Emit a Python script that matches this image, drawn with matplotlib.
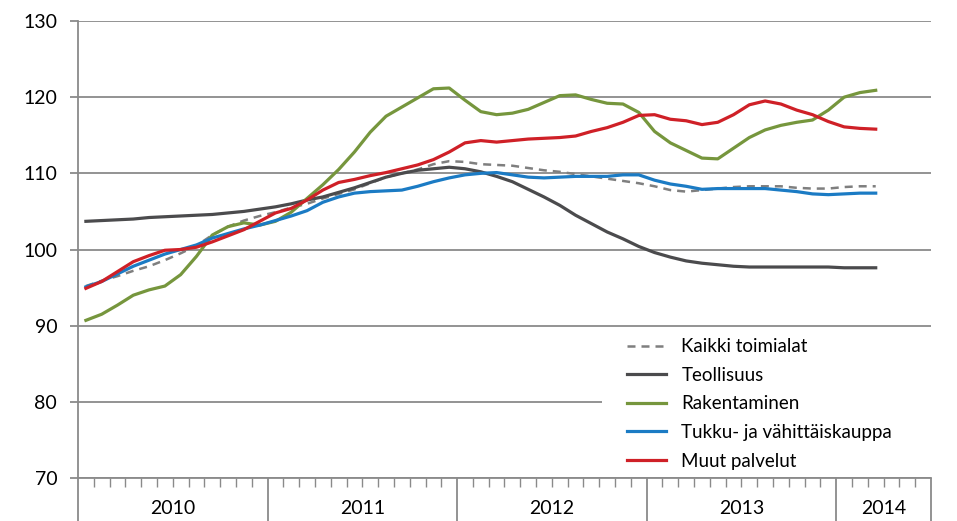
import matplotlib.pyplot as plt
from matplotlib.patches import Rectangle

# monthly index, Jan 2010 - Mar 2014
years = ["2010", "2011", "2012", "2013", "2014"]
months_per_year = [12, 12, 12, 12, 6]

kaikki = [95.2, 95.9, 96.5, 97.2, 97.8, 98.6, 99.5, 100.5, 101.9, 103.0, 103.8, 104.4,
          104.9, 105.5, 106.0, 106.7, 107.3, 107.9, 108.7, 109.5, 110.0, 110.5, 111.2, 111.6,
          111.5, 111.2, 111.1, 111.0, 110.7, 110.4, 110.2, 109.9, 109.6, 109.3, 109.0, 108.7,
          108.3, 107.8, 107.6, 107.8, 108.0, 108.2, 108.3, 108.3, 108.3, 108.1, 108.0, 108.0,
          108.2, 108.3, 108.3]
teollisuus = [103.7, 103.8, 103.9, 104.0, 104.2, 104.3, 104.4, 104.5, 104.6, 104.8, 105.0, 105.3,
              105.6, 106.0, 106.5, 106.9, 107.5, 108.1, 108.8, 109.5, 110.0, 110.4, 110.6, 110.8,
              110.6, 110.2, 109.6, 108.9, 107.9, 106.9, 105.8, 104.5, 103.4, 102.3, 101.4, 100.4,
              99.6, 99.0, 98.5, 98.2, 98.0, 97.8, 97.7, 97.7, 97.7, 97.7, 97.7, 97.7,
              97.6, 97.6, 97.6]
rakentaminen = [90.7, 91.5, 92.7, 94.0, 94.7, 95.2, 96.7, 99.1, 101.9, 103.0, 103.5, 103.2,
                103.7, 104.9, 106.7, 108.5, 110.5, 112.8, 115.4, 117.5, 118.7, 119.9, 121.1, 121.2,
                119.6, 118.1, 117.7, 117.9, 118.4, 119.3, 120.2, 120.3, 119.7, 119.2, 119.1, 118.0,
                115.5, 114.0, 113.0, 112.0, 111.9, 113.3, 114.7, 115.7, 116.3, 116.7, 117.0, 118.3,
                120.0, 120.6, 120.9]
kauppa = [95.1, 95.8, 96.8, 97.8, 98.6, 99.4, 100.0, 100.6, 101.5, 102.1, 102.7, 103.2,
          103.8, 104.4, 105.1, 106.2, 106.9, 107.4, 107.6, 107.7, 107.8, 108.3, 108.9, 109.4,
          109.8, 110.0, 110.1, 109.8, 109.5, 109.4, 109.5, 109.6, 109.6, 109.6, 109.8, 109.8,
          109.1, 108.6, 108.3, 107.9, 108.0, 108.0, 108.0, 108.0, 107.8, 107.6, 107.3, 107.2,
          107.3, 107.4, 107.4]
palvelut = [94.9, 95.8, 97.1, 98.4, 99.2, 99.9, 100.0, 100.3, 101.0, 101.8, 102.6, 103.7,
            104.8, 105.4, 106.5, 107.8, 108.8, 109.2, 109.7, 110.1, 110.6, 111.1, 111.8, 112.8,
            114.0, 114.3, 114.1, 114.3, 114.5, 114.6, 114.7, 114.9, 115.5, 116.0, 116.7, 117.6,
            117.7, 117.1, 116.9, 116.4, 116.7, 117.7, 119.0, 119.5, 119.1, 118.3, 117.7, 116.8,
            116.1, 115.9, 115.8]

series = [
    ("Kaikki toimialat", kaikki, "#7f7f7f", (0, (3.2, 2.4))),
    ("Teollisuus", teollisuus, "#4b4b4d", "-"),
    ("Rakentaminen", rakentaminen, "#76963d", "-"),
    ("Tukku- ja vähittäiskauppa", kauppa, "#1b7bc4", "-"),
    ("Muut palvelut", palvelut, "#cf2027", "-"),
]

plt.rcParams["font.family"] = ["Lato", "DejaVu Sans"]

fig = plt.figure(figsize=(9.57, 5.21), dpi=100)
ax = fig.add_axes([78 / 957, 1 - 478 / 521, 853 / 957, 457 / 521])

grid_col = "#8a8a8a"
x = [i + 0.5 for i in range(len(kaikki))]
for name, vals, col, ls in series:
    lw = 1.8 if name == "Kaikki toimialat" else 2.3
    ax.plot(x, vals, color=col, ls=ls, lw=lw, label=name, zorder=3)

total = sum(months_per_year)
ax.set_xlim(0, total)
ax.set_ylim(70, 130)
ax.set_yticks(range(70, 131, 10))
ax.yaxis.grid(True, color=grid_col, lw=1.3)
ax.set_axisbelow(True)

for s in ["top", "right"]:
    ax.spines[s].set_visible(False)
for s in ["left", "bottom"]:
    ax.spines[s].set_color(grid_col)
    ax.spines[s].set_linewidth(1.3)

ax.tick_params(axis="y", length=6, width=1.3, color=grid_col, pad=9, labelsize=14)

bounds = [0]
for m in months_per_year:
    bounds.append(bounds[-1] + m)
ax.set_xticks(bounds)
ax.set_xticklabels([])
ax.set_xticks(range(total + 1), minor=True)
ax.tick_params(axis="x", which="major", length=34, width=1.3, color=grid_col)
ax.tick_params(axis="x", which="minor", length=6.5, width=1.0, color=grid_col)

for i, yr in enumerate(years):
    mid = (bounds[i] + bounds[i + 1]) / 2
    ax.text(mid, -0.066, yr, transform=ax.get_xaxis_transform(),
            ha="center", va="center", fontsize=14)

# white box behind the legend
ax.add_patch(Rectangle((0.614, 0.02), 0.39, 0.3, transform=ax.transAxes,
                       facecolor="white", edgecolor="none", zorder=1, clip_on=False))

leg = ax.legend(loc="upper left", bbox_to_anchor=(0.6436, 0.306), frameon=False,
                fontsize=13.5, handlelength=2.1, handletextpad=0.8, labelspacing=0.62,
                borderpad=0, borderaxespad=0)

fig.savefig("out.png", dpi=100)
